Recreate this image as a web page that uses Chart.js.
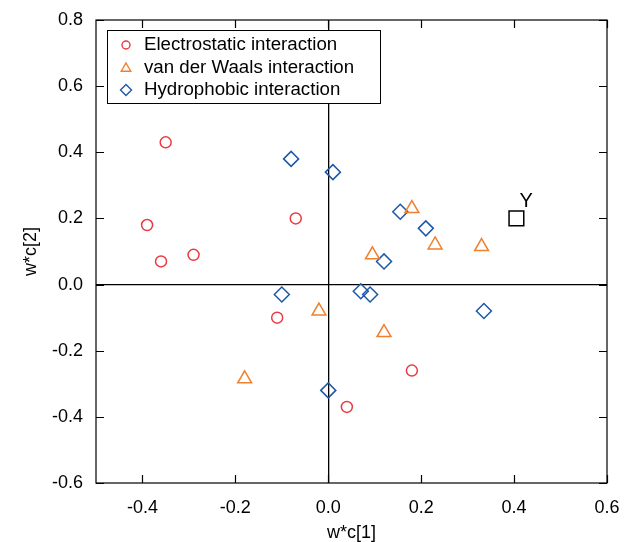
<!DOCTYPE html>
<html>
<head>
<meta charset="utf-8">
<script src="https://cdn.jsdelivr.net/npm/chart.js@4.4.1/dist/chart.umd.min.js"></script>
<style>
  html, body { margin: 0; padding: 0; background: #fff; }
  #wrap { width: 625px; height: 542px; }
</style>
</head>
<body>
<div id="wrap"><canvas id="chart" width="625" height="542"></canvas></div>
<script>
// Values
const elecX = [-0.35, -0.39, -0.36, -0.29, -0.07, -0.11, 0.04, 0.18];
const elecY = [0.43, 0.18, 0.07, 0.09, 0.20, -0.10, -0.37, -0.26];

const vdwX = [0.18, 0.095, 0.23, 0.33, -0.02, 0.12, -0.18];
const vdwY = [0.23, 0.09, 0.12, 0.115, -0.08, -0.145, -0.285];

const hydX = [-0.08, 0.01, 0.155, 0.21, 0.12, -0.10, 0.07, 0.09, 0.335, 0.0];
const hydY = [0.38, 0.34, 0.22, 0.17, 0.07, -0.03, -0.02, -0.03, -0.08, -0.32];

const yX = [0.405];
const yY = [0.20];
const yLabel = 'Y';

const seriesNames = ['Electrostatic interaction', 'van der Waals interaction', 'Hydrophobic interaction'];
const xTicks = [-0.4, -0.2, 0.0, 0.2, 0.4, 0.6];
const yTicks = [-0.6, -0.4, -0.2, 0.0, 0.2, 0.4, 0.6, 0.8];

const RED = 'rgb(234, 58, 66)';
const ORANGE = 'rgb(240, 128, 48)';
const BLUE = 'rgb(28, 88, 168)';
const FONT = 'Liberation Sans, Arial, sans-serif';

function pts(xs, ys) {
    return xs.map((x, i) => ({ x: x, y: ys[i] }));
}

// Frame, inward ticks, the Y label and the boxed legend
const framePlugin = {
    id: 'frame',
    afterDatasetsDraw(chart) {
        const ctx = chart.ctx;
        const a = chart.chartArea;
        const xs = chart.scales.x;
        const ys = chart.scales.y;
        ctx.save();
        ctx.strokeStyle = '#000';
        ctx.lineWidth = 1.2;
        ctx.strokeRect(a.left, a.top, a.right - a.left, a.bottom - a.top);
        const len = 8;
        ctx.beginPath();
        xTicks.forEach(v => {
            const px = Math.round(xs.getPixelForValue(v)) + 0.5;
            ctx.moveTo(px, a.bottom); ctx.lineTo(px, a.bottom - len);
            ctx.moveTo(px, a.top); ctx.lineTo(px, a.top + len);
        });
        yTicks.forEach(v => {
            const py = Math.round(ys.getPixelForValue(v)) + 0.5;
            ctx.moveTo(a.left, py); ctx.lineTo(a.left + len, py);
            ctx.moveTo(a.right, py); ctx.lineTo(a.right - len, py);
        });
        ctx.stroke();

        // label next to the Y point
        const yMeta = chart.getDatasetMeta(3).data[0];
        ctx.fillStyle = '#000';
        ctx.font = '20px ' + FONT;
        ctx.textAlign = 'left';
        ctx.textBaseline = 'middle';
        ctx.fillText(yLabel, yMeta.x + 3, yMeta.y - 17);

        // legend box
        const bx = 107, by = 30, bw = 273, bh = 73;
        ctx.fillStyle = '#fff';
        ctx.fillRect(bx, by, bw, bh);
        ctx.lineWidth = 1;
        ctx.strokeRect(bx + 0.5, by + 0.5, bw, bh);
        const styles = [
            { pointStyle: 'circle', radius: 4, color: RED },
            { pointStyle: 'triangle', radius: 5.5, color: ORANGE },
            { pointStyle: 'rectRot', radius: 5.5, color: BLUE }
        ];
        ctx.font = '18.7px ' + FONT;
        seriesNames.forEach((name, i) => {
            const cy = by + 15 + i * 22.5;
            ctx.strokeStyle = styles[i].color;
            ctx.fillStyle = '#fff';
            ctx.lineWidth = 1.4;
            Chart.helpers.drawPoint(ctx, {
                pointStyle: styles[i].pointStyle,
                radius: styles[i].radius,
                borderWidth: 1.4
            }, bx + 19, cy + (i === 1 ? 1 : 0));
            ctx.fillStyle = '#000';
            ctx.fillText(name, bx + 37, cy);
        });
        ctx.restore();
    }
};

new Chart(document.getElementById('chart'), {
    type: 'scatter',
    data: {
        datasets: [
            {
                label: seriesNames[0],
                data: pts(elecX, elecY),
                pointStyle: 'circle',
                pointRadius: 5.5,
                borderColor: RED,
                backgroundColor: 'transparent',
                borderWidth: 1.5
            },
            {
                label: seriesNames[1],
                data: pts(vdwX, vdwY),
                pointStyle: 'triangle',
                pointRadius: 8,
                borderColor: ORANGE,
                backgroundColor: 'transparent',
                borderWidth: 1.5
            },
            {
                label: seriesNames[2],
                data: pts(hydX, hydY),
                pointStyle: 'rectRot',
                pointRadius: 7.5,
                borderColor: BLUE,
                backgroundColor: 'transparent',
                borderWidth: 1.5
            },
            {
                label: yLabel,
                data: pts(yX, yY),
                pointStyle: 'rect',
                pointRadius: 10.4,
                borderColor: '#000',
                backgroundColor: 'transparent',
                borderWidth: 1.5
            }
        ]
    },
    options: {
        responsive: false,
        animation: false,
        layout: { padding: { top: 20, right: 18, left: 0, bottom: 0 } },
        plugins: {
            legend: { display: false },
            tooltip: { enabled: false }
        },
        scales: {
            x: {
                type: 'linear',
                min: -0.5,
                max: 0.6,
                afterBuildTicks: s => { s.ticks = xTicks.map(v => ({ value: v })); },
                afterFit: s => { s.height = 59; s.paddingLeft = 0; s.paddingRight = 0; },
                border: { display: false },
                grid: {
                    drawTicks: false,
                    lineWidth: 1.3,
                    color: c => (c.tick && c.tick.value === 0 ? '#000' : 'transparent')
                },
                ticks: {
                    padding: 14,
                    color: '#000',
                    font: { family: FONT, size: 18 },
                    callback: v => v.toFixed(1)
                },
                title: {
                    display: true,
                    text: 'w*c[1]',
                    color: '#000',
                    font: { family: FONT, size: 18 },
                    padding: { top: 0, bottom: -2 }
                }
            },
            y: {
                type: 'linear',
                min: -0.6,
                max: 0.8,
                afterBuildTicks: s => { s.ticks = yTicks.map(v => ({ value: v })); },
                afterFit: s => { s.width = 96; s.paddingTop = 0; s.paddingBottom = 0; },
                border: { display: false },
                grid: {
                    drawTicks: false,
                    lineWidth: 1.3,
                    color: c => (c.tick && c.tick.value === 0 ? '#000' : 'transparent')
                },
                ticks: {
                    padding: 13,
                    color: '#000',
                    font: { family: FONT, size: 18 },
                    callback: v => v.toFixed(1)
                },
                title: {
                    display: true,
                    text: 'w*c[2]',
                    color: '#000',
                    font: { family: FONT, size: 18 },
                    padding: { top: 20, bottom: 0 }
                }
            }
        }
    },
    plugins: [framePlugin]
});
</script>
</body>
</html>
